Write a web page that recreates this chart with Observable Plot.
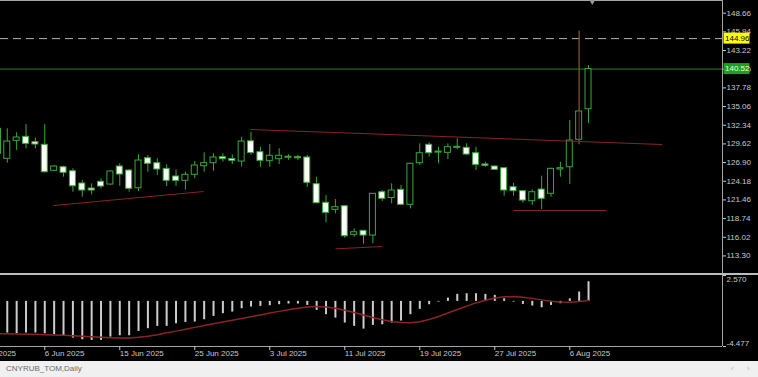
<!DOCTYPE html>
<html><head><meta charset="utf-8">
<script src="https://cdn.jsdelivr.net/npm/d3@7"></script>
<script src="https://cdn.jsdelivr.net/npm/@observablehq/plot@0.6"></script>
<style>
html,body{margin:0;padding:0;background:#000;}
#wrap{position:relative;width:758px;height:377px;overflow:hidden;background:#000;font-family:"Liberation Sans",Arial,sans-serif;}
#main,#sub{display:block;line-height:0;}
#sep{height:2px;background:#bdbdbd;}
#status{position:absolute;left:0;top:361px;width:758px;height:16px;background:#f0f0f0;color:#6b6b6b;font-size:8px;line-height:16px;}
#status span{position:absolute;top:0;}
</style></head><body>
<div id="wrap">
  <div id="main"></div>
  <div id="sep"></div>
  <div id="sub"></div>
  <div id="status"><span style="left:6px">CNYRUB_TOM,Daily</span><span style="left:731px;color:#b8b8b8">‹</span><span style="left:747px;color:#b8b8b8">›</span></div>
</div>
<script>
// ---- data (bar index 0..63, daily CNYRUB_TOM) ----
const open  = [131.82,127.45,130.07,130.65,129.87,129.49,125.70,126.22,125.64,123.85,123.12,124.10,123.70,126.33,125.74,123.16,127.53,126.81,125.99,124.87,124.24,125.12,126.37,126.81,127.68,127.42,127.05,130.00,128.41,127.10,127.39,127.60,127.63,127.64,123.75,121.04,120.02,120.54,116.38,116.96,116.27,122.58,121.74,122.93,120.75,126.81,129.49,128.35,128.32,129.05,129.05,128.26,126.62,126.33,126.08,123.31,122.73,121.27,122.97,122.35,125.89,126.22,130.22,134.67];
const high  = [132.40,131.82,131.24,132.44,130.45,132.44,126.47,126.37,125.99,124.29,123.80,124.53,125.70,126.72,125.89,128.03,127.93,127.45,126.57,125.84,125.49,127.05,128.32,128.18,128.18,128.03,130.59,131.32,129.14,129.53,128.90,128.03,127.93,127.93,124.77,122.10,121.52,120.60,117.25,117.00,122.40,122.83,123.80,123.56,126.81,129.63,129.78,129.14,129.63,130.36,129.63,129.14,126.95,126.37,126.10,123.89,122.83,122.93,124.91,126.08,126.95,133.03,146.04,141.04];
const low   = [127.90,126.81,128.66,128.90,128.90,125.40,125.60,124.77,122.58,121.85,122.20,123.08,123.60,123.45,122.58,122.68,125.49,125.01,123.41,123.45,122.87,124.53,125.49,125.64,126.95,126.62,126.25,128.00,126.22,126.22,126.62,127.24,127.20,123.27,120.90,118.12,119.43,115.88,116.02,115.01,115.06,121.23,120.89,120.64,120.16,126.47,127.68,126.72,127.34,128.76,127.93,125.74,126.22,125.79,122.00,122.00,120.98,120.64,120.06,121.85,124.77,123.70,129.53,132.55];
const close = [128.17,129.97,130.55,129.63,129.53,125.49,126.33,125.41,123.45,122.83,122.83,123.41,125.60,125.16,123.08,127.20,126.72,125.89,124.24,124.24,125.12,126.47,126.81,127.64,127.39,127.16,129.97,128.29,127.16,127.89,127.89,127.68,127.53,123.95,120.98,119.58,120.40,116.17,116.75,116.27,122.35,121.62,122.83,120.75,126.72,128.26,128.26,128.41,129.14,129.20,128.07,126.57,126.43,125.85,122.83,122.73,121.37,122.58,121.62,125.99,126.08,130.11,134.34,140.52];

// oscillator histogram and its signal line
const hist = [-3.10,-3.14,-3.21,-3.14,-3.14,-3.21,-3.31,-3.44,-3.64,-3.81,-3.87,-3.87,-3.54,-3.41,-3.41,-2.98,-2.71,-2.48,-2.48,-2.22,-2.09,-2.05,-1.82,-1.49,-1.22,-1.06,-0.73,-0.56,-0.50,-0.43,-0.33,-0.26,-0.26,-0.40,-0.89,-1.32,-1.66,-2.15,-2.48,-2.75,-2.38,-2.32,-2.15,-1.95,-1.32,-0.79,-0.33,-0.07,0.33,0.70,0.76,0.76,0.70,0.60,0.26,-0.07,-0.30,-0.46,-0.63,-0.40,-0.23,0.26,0.93,1.95];
const signal = [-3.21,-3.22,-3.23,-3.25,-3.27,-3.30,-3.33,-3.37,-3.42,-3.47,-3.52,-3.57,-3.61,-3.64,-3.64,-3.57,-3.45,-3.30,-3.12,-2.95,-2.77,-2.58,-2.40,-2.22,-2.05,-1.87,-1.69,-1.52,-1.34,-1.16,-0.99,-0.82,-0.67,-0.55,-0.50,-0.55,-0.68,-0.87,-1.10,-1.36,-1.60,-1.82,-1.99,-2.10,-2.12,-2.02,-1.80,-1.50,-1.15,-0.80,-0.47,-0.15,0.12,0.33,0.46,0.48,0.42,0.30,0.15,0.02,-0.06,-0.08,-0.02,0.08];

// drawn objects (bar index / price)
const trendX1 = [5.93, 26.94, 36.01, 54.97, 62];
const trendY1 = [120.64, 131.72, 114.33, 119.92, 146.04];
const trendX2 = [21.93, 70.86, 41.00, 64.92, 62];
const trendY2 = [122.68, 129.53, 114.67, 119.92, 129.53];
const highLevel = 144.96;
const currentPrice = close[close.length - 1];

// axes
const priceTicks = [148.66,145.94,143.22,140.50,137.78,135.06,132.34,129.62,126.90,124.18,121.46,118.74,116.02,113.30];
const oscTicks = [2.570, -4.477];
const dateIdx = [-3, 5, 13, 21, 29, 37, 45, 53, 61];
const dateLabels = ["27 May 2025","6 Jun 2025","15 Jun 2025","25 Jun 2025","3 Jul 2025","11 Jul 2025","19 Jul 2025","27 Jul 2025","6 Aug 2025"];
const shiftIdx = [63.4];

// ---- build ----
const idx = open.map((_, i) => i);
const candles = idx.map(i => ({i, open: open[i], high: high[i], low: low[i], close: close[i]}));
const trends = trendX1.map((_, k) => ({x1: trendX1[k], y1: trendY1[k], x2: trendX2[k], y2: trendY2[k]}));
const xDomain = [0.277, 77.29];
const GREEN = "#3aa83a", RED = "#8a2424", GRID = "#a4a4a4", TXT = "#c8c8c8";
const baseStyle = {background: "#000", color: TXT, fontFamily: "'Liberation Sans', Arial, sans-serif", fontSize: "8px", overflow: "hidden"};

const main = Plot.plot({
  width: 758, height: 273, marginTop: 0, marginBottom: 0, marginLeft: 0, marginRight: 36,
  style: baseStyle,
  x: {domain: xDomain, axis: null},
  y: {domain: [110.74, 150.51], axis: null},
  marks: [
    Plot.ruleY([150.51], {stroke: GRID}),
    Plot.ruleY([currentPrice], {stroke: "#2f7d2f"}),
    Plot.ruleY([highLevel], {stroke: "#b8b4a4", strokeDasharray: "8,5"}),
    Plot.ruleX(candles, {x: "i", y1: "low", y2: "high", stroke: GREEN}),
    Plot.rect(candles, {
      x1: d => d.i - 0.32, x2: d => d.i + 0.32,
      y1: d => Math.min(d.open, d.close),
      y2: d => Math.max(d.open, d.close, Math.min(d.open, d.close) + 0.15),
      fill: d => d.close >= d.open ? "#000" : "#fff", stroke: GREEN
    }),
    Plot.link(trends, {x1: "x1", y1: "y1", x2: "x2", y2: "y2", stroke: RED}),
    Plot.axisY(priceTicks, {anchor: "right", tickSize: 3, tickPadding: 1, tickFormat: d => d.toFixed(2)}),
    Plot.ruleX([xDomain[1]], {stroke: GRID}),
    Plot.dot(shiftIdx, {x: d => d, frameAnchor: "top", symbol: "triangle", rotate: 180, r: 2.2, dy: 1, fill: "#9a9a9a", stroke: null})
  ]
});
document.getElementById("main").appendChild(main);

// price tags on the right axis (positioned through the plot's own scales)
const ys = main.scale("y"), xs = main.scale("x");
const xr = xs.apply(xDomain[1]);
const svg = d3.select(main);
function tag(v, bg, fg) {
  const cy = ys.apply(v);
  svg.append("rect").attr("x", xr + 1.5).attr("y", cy - 5.5).attr("width", 26).attr("height", 11).attr("fill", bg);
  svg.append("text").attr("x", xr + 3).attr("y", cy).attr("dy", "0.35em").attr("fill", fg)
     .attr("font-size", 8).attr("text-anchor", "start").text(v.toFixed(2));
}
tag(highLevel, "#ffff00", "#000");
tag(currentPrice, "#1ea01e", "#e8ffe8");

const sub = Plot.plot({
  width: 758, height: 86, marginTop: 0, marginBottom: 15, marginLeft: 0, marginRight: 36,
  style: baseStyle,
  x: {domain: xDomain, axis: null},
  y: {domain: [oscTicks[1], oscTicks[0]], axis: null},
  marks: [
    Plot.ruleX(idx, {x: i => i, y1: 0, y2: i => hist[i], stroke: "#cccccc", strokeWidth: 2}),
    Plot.line(idx, {x: i => i, y: i => signal[i], stroke: RED}),
    Plot.ruleY([oscTicks[1]], {stroke: GRID}),
    Plot.ruleX([xDomain[1]], {stroke: GRID}),
    Plot.axisX(dateIdx, {anchor: "bottom", tickSize: 4, tickPadding: 0, textAnchor: "start",
      tickFormat: d => dateLabels[dateIdx.indexOf(d)]}),
    Plot.axisY(oscTicks, {anchor: "right", tickSize: 3, tickFormat: () => ""}),
    Plot.text([oscTicks[0]], {y: d => d, frameAnchor: "right", dx: 4, dy: 4, textAnchor: "start", text: d => d.toFixed(3), fill: TXT}),
    Plot.text([oscTicks[1]], {y: d => d, frameAnchor: "right", dx: 4, dy: -3, textAnchor: "start", text: d => d.toFixed(3), fill: TXT})
  ]
});
document.getElementById("sub").appendChild(sub);
</script>
</body></html>
